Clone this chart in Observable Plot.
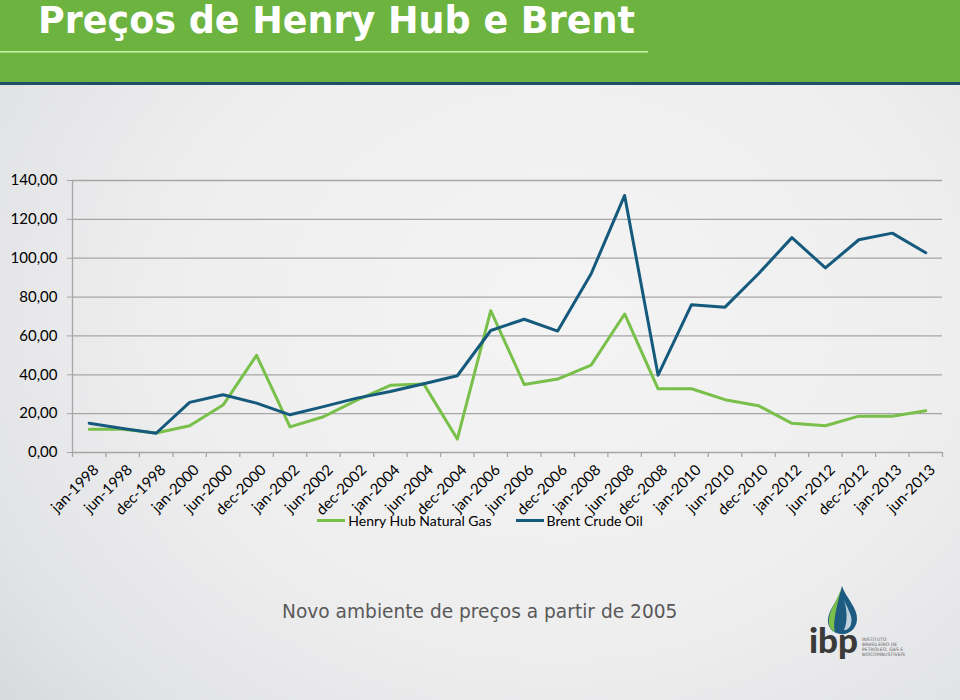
<!DOCTYPE html>
<html>
<head>
<meta charset="utf-8">
<script src="https://cdn.jsdelivr.net/npm/d3@7"></script>
<script src="https://cdn.jsdelivr.net/npm/@observablehq/plot@0.6"></script>
<style>
html, body { margin: 0; padding: 0; }
body { width: 960px; height: 700px; overflow: hidden; }
#page {
  position: relative; width: 960px; height: 700px; overflow: hidden;
  background: radial-gradient(ellipse 75% 85% at 58% 45%, #f4f4f4 0%, #eeeeef 55%, #e2e3e5 85%, #d9dadc 100%);
  font-family: Lato, sans-serif;
}
#header { position: absolute; left: 0; top: 0; }
#chart { position: absolute; left: 0; top: 150px; }
#legend {
  position: absolute; left: 0; top: 510px; width: 960px; height: 20px;
  display: flex; justify-content: center; align-items: center; gap: 24px;
  font-family: Lato, sans-serif; font-size: 14px; color: #000;
}
#legend .item { display: flex; align-items: center; }
#legend .sw { display: inline-block; width: 28px; height: 3px; margin-right: 3px; }
#caption {
  position: absolute; left: 282px; top: 600px;
  font-family: "DejaVu Sans", sans-serif; font-size: 18.6px; color: #595959;
  white-space: nowrap; line-height: 24px;
}
#logo { position: absolute; left: 800px; top: 582px; }
</style>
</head>
<body>
<div id="page">
  <svg id="header" width="960" height="86">
    <rect x="0" y="0" width="960" height="82" fill="#6db33f"></rect>
    <rect x="0" y="82" width="960" height="3" fill="#1d5068"></rect>
    <rect x="0" y="51" width="648" height="1.6" fill="#c6ef9f"></rect>
    <text x="38" y="33" fill="#ffffff" font-family="DejaVu Sans" font-weight="bold" font-size="36.5">Preços de Henry Hub e Brent</text>
  </svg>
  <div id="chart"></div>
  <div id="legend"></div>
  <div id="caption">Novo ambiente de preços a partir de 2005</div>
  <svg id="logo" width="120" height="90">
    <path d="M42,4 C46,16 58,26 57,38 C56,48 48,53 40,52 C32,51 27,44 28,37 C29,26 39,18 42,4 Z" fill="#1d5c80"></path>
    <path d="M42,4 C38,18 30,26 29,37 C28,44 31,48 35,50 C33,42 35,30 42,4 Z" fill="#7cc04a"></path>
    <path d="M44,18 C48,28 53,34 51,42 C50,46 47,48 44,48 C47,42 48,30 44,18 Z" fill="#e9f1f5" opacity="0.8"></path>
    <text x="9" y="71" fill="#3a3a3a" font-family="Lato" font-weight="900" font-size="35">ibp</text>
    <g font-family="DejaVu Sans" font-size="4.6" fill="#666">
      <text x="62" y="59">INSTITUTO</text>
      <text x="62" y="64">BRASILEIRO DE</text>
      <text x="62" y="69">PETRÓLEO, GÁS E</text>
      <text x="62" y="74">BIOCOMBUSTÍVEIS</text>
    </g>
  </svg>
</div>
<script>
const categories = ["jan-1998","jun-1998","dec-1998","jan-2000","jun-2000","dec-2000","jan-2002","jun-2002","dec-2002","jan-2004","jun-2004","dec-2004","jan-2006","jun-2006","dec-2006","jan-2008","jun-2008","dec-2008","jan-2010","jun-2010","dec-2010","jan-2012","jun-2012","dec-2012","jan-2013","jun-2013"];
const henryHub = [12.0, 12.0, 10.0, 13.8, 24.4, 50.0, 13.2, 18.4, 27.0, 34.6, 35.2, 6.9, 73.0, 35.0, 37.8, 45.0, 71.3, 32.8, 32.8, 27.2, 24.1, 15.0, 13.8, 18.7, 18.7, 21.5];
const brent = [15.1, 12.4, 9.9, 25.8, 29.7, 25.4, 19.4, 23.6, 28.0, 31.4, 35.4, 39.5, 62.8, 68.6, 62.5, 92.0, 132.3, 39.8, 76.1, 74.8, 92.0, 110.6, 95.0, 109.5, 112.9, 102.8];
const seriesNames = ["Henry Hub Natural Gas", "Brent Crude Oil"];
const seriesColors = ["#78c04a", "#155a7c"];
const yTicks = [0, 20, 40, 60, 80, 100, 120, 140];

const data = categories.flatMap((c, i) => [
  {cat: c, value: henryHub[i], series: seriesNames[0]},
  {cat: c, value: brent[i], series: seriesNames[1]}
]);

const W = 960, H = 360, mL = 72, mR = 18, mT = 30, mB = 58;
const step = (W - mL - mR) / categories.length;
const gridColor = "#a6a6a6";
const fmt = d => d.toFixed(2).replace(".", ",");

const chart = Plot.plot({
  width: W, height: H,
  marginLeft: mL, marginRight: mR, marginTop: mT, marginBottom: mB,
  style: {background: "transparent", fontFamily: "Lato, sans-serif", color: "#000", overflow: "visible"},
  x: {type: "point", domain: categories, padding: 0.5, round: false},
  y: {domain: [0, 140]},
  color: {domain: seriesNames, range: seriesColors},
  marks: [
    Plot.ruleY(yTicks, {y: d => d, stroke: gridColor, strokeWidth: 1.3}),
    Plot.ruleX([categories[0]], {x: d => d, dx: -step / 2, stroke: gridColor, strokeWidth: 1.3}),
    Plot.ruleX(categories, {x: d => d, y1: 0, y2: 0, dx: -step / 2, insetBottom: -5, stroke: gridColor, strokeWidth: 1.3}),
    Plot.ruleX([categories[categories.length - 1]], {x: d => d, y1: 0, y2: 0, dx: step / 2, insetBottom: -5, stroke: gridColor, strokeWidth: 1.3}),
    Plot.axisY({ticks: yTicks, tickFormat: fmt, tickSize: 5, tickPadding: 10, stroke: gridColor, fill: "#000", fontSize: 15, label: null}),
    Plot.axisX({tickRotate: -45, tickSize: 0, tickPadding: 15, dx: 7, fill: "#000", fontSize: 15, label: null}),
    Plot.line(data, {x: "cat", y: "value", z: "series", stroke: "series", strokeWidth: 3, strokeLinejoin: "round", strokeLinecap: "round"})
  ]
});
document.getElementById("chart").appendChild(chart);

const legend = document.getElementById("legend");
seriesNames.forEach((name, i) => {
  const item = document.createElement("div");
  item.className = "item";
  const sw = document.createElement("span");
  sw.className = "sw";
  sw.style.background = seriesColors[i];
  const label = document.createElement("span");
  label.textContent = name;
  item.appendChild(sw);
  item.appendChild(label);
  legend.appendChild(item);
});
</script>
</body>
</html>
